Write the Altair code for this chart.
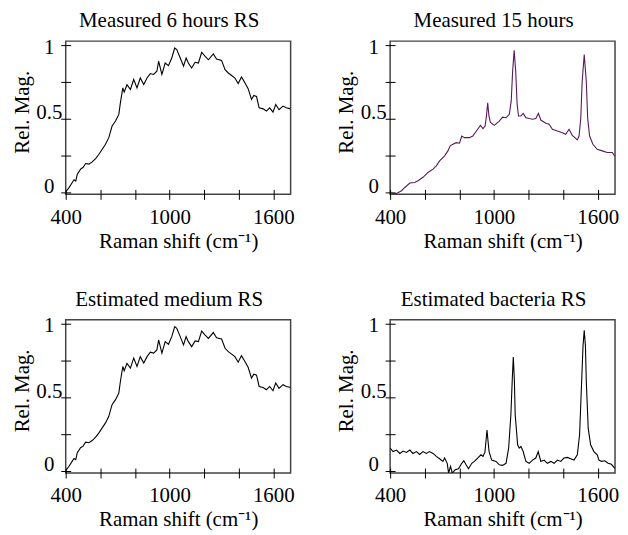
import altair as alt
import pandas as pd

# Panel 1 / 3: measured 6 hours RS and estimated medium RS
x_med = [400, 419, 438, 448, 458, 467, 486, 500, 515, 534, 553, 573, 592, 611, 630, 649, 668, 688, 707, 716,
         730, 738, 754, 774, 793, 812, 831, 851, 870, 889, 908, 927, 937, 956, 975, 994, 1013, 1030, 1042,
         1062, 1081, 1096, 1109, 1128, 1148, 1167, 1186, 1206, 1225, 1253, 1272, 1301, 1321, 1340, 1359,
         1378, 1397, 1416, 1436, 1455, 1474, 1487, 1503, 1518, 1541, 1560, 1579, 1598, 1614, 1633, 1656,
         1675, 1700]
y_med = [0.0, 0.03, 0.065, 0.083, 0.075, 0.122, 0.156, 0.167, 0.194, 0.19, 0.205, 0.228, 0.257, 0.291,
         0.325, 0.37, 0.449, 0.483, 0.528, 0.607, 0.709, 0.68, 0.73, 0.698, 0.766, 0.709, 0.776, 0.732,
         0.776, 0.806, 0.8, 0.822, 0.89, 0.8, 0.878, 0.86, 0.912, 0.98, 0.969, 0.912, 0.856, 0.912, 0.878,
         0.844, 0.883, 0.878, 0.95, 0.923, 0.9, 0.94, 0.905, 0.896, 0.833, 0.81, 0.793, 0.776, 0.738,
         0.783, 0.743, 0.702, 0.63, 0.657, 0.65, 0.573, 0.566, 0.551, 0.573, 0.544, 0.596, 0.56, 0.585,
         0.573, 0.566]

# Panel 2: measured 15 hours
x_15 = [408, 437, 466, 485, 514, 542, 561, 590, 619, 648, 667, 686, 715, 734, 747, 763, 782, 801, 814,
        829, 858, 878, 906, 922, 937, 949, 957, 964, 971, 979, 1002, 1031, 1050, 1070, 1089, 1100, 1108,
        1117, 1126, 1134, 1142, 1156, 1169, 1185, 1204, 1223, 1242, 1257, 1271, 1300, 1319, 1338, 1367,
        1396, 1415, 1434, 1453, 1482, 1492, 1502, 1510, 1522, 1534, 1542, 1553, 1572, 1597, 1626, 1655,
        1684, 1700]
y_15 = [-0.01, -0.01, 0.009, 0.031, 0.061, 0.065, 0.077, 0.1, 0.133, 0.156, 0.178, 0.212, 0.246, 0.28,
        0.314, 0.325, 0.336, 0.332, 0.381, 0.37, 0.37, 0.381, 0.427, 0.454, 0.431, 0.449, 0.52, 0.607,
        0.52, 0.476, 0.454, 0.483, 0.51, 0.506, 0.529, 0.62, 0.82, 0.964, 0.82, 0.6, 0.517, 0.517, 0.535,
        0.506, 0.5, 0.495, 0.5, 0.535, 0.49, 0.468, 0.461, 0.427, 0.416, 0.404, 0.393, 0.427, 0.386,
        0.355, 0.381, 0.5, 0.75, 0.935, 0.75, 0.5, 0.381, 0.325, 0.291, 0.28, 0.269, 0.269, 0.242]

# Panel 4: estimated bacteria RS
x_bac = [400, 417, 437, 456, 475, 494, 514, 532, 552, 571, 590, 609, 628, 648, 667, 686, 705, 715, 730,
         738, 749, 759, 776, 795, 814, 826, 839, 853, 872, 887, 906, 925, 937, 948, 954, 960, 966, 972,
         987, 1012, 1031, 1050, 1070, 1085, 1098, 1106, 1112, 1118, 1123, 1137, 1146, 1156, 1169, 1185,
         1204, 1223, 1242, 1256, 1271, 1290, 1309, 1329, 1348, 1367, 1386, 1405, 1425, 1444, 1463, 1482,
         1495, 1507, 1515, 1522, 1529, 1534, 1545, 1559, 1578, 1597, 1607, 1622, 1641, 1660, 1679, 1699]
y_bac = [0.153, 0.13, 0.14, 0.117, 0.133, 0.124, 0.14, 0.117, 0.13, 0.11, 0.13, 0.117, 0.13, 0.117,
         0.097, 0.081, 0.063, 0.086, 0.05, -0.016, 0.029, -0.016, 0.006, 0.013, 0.05, 0.067, 0.04, 0.013,
         0.05, 0.063, 0.086, 0.108, 0.097, 0.126, 0.2, 0.277, 0.2, 0.13, 0.072, 0.063, 0.04, 0.036, 0.05,
         0.153, 0.38, 0.62, 0.774, 0.62, 0.38, 0.176, 0.153, 0.165, 0.13, 0.063, 0.05, 0.072, 0.086, 0.13,
         0.063, 0.072, 0.05, 0.063, 0.05, 0.072, 0.063, 0.086, 0.09, 0.081, 0.072, 0.108, 0.243, 0.605,
         0.85, 0.955, 0.85, 0.605, 0.288, 0.176, 0.13, 0.108, 0.072, 0.063, 0.067, 0.05, 0.043, 0.016]

titles = ["Measured 6 hours RS", "Measured 15 hours", "Estimated medium RS", "Estimated bacteria RS"]
x_ticks = [400, 600, 800, 1000, 1200, 1400, 1600]
x_labels = [400, 1000, 1600]
y_ticks = [0, 0.25, 0.5, 0.75, 1]
y_labels = [0, 0.5, 1]

FONT = "Liberation Serif"
FS = 21
W, H = 226, 154


def panel(xs, ys, title, color):
    df = pd.DataFrame({"x": xs, "y": ys})
    x_expr = " || ".join(f"datum.value == {v}" for v in x_labels)
    y_expr = " || ".join(f"datum.value == {v}" for v in y_labels)
    return alt.Chart(
        df,
        title=alt.Title(title, font=FONT, fontSize=FS, fontWeight="normal", color="black",
                        anchor="middle", frame="group", baseline="alphabetic", offset=-12, dx=-9),
    ).mark_line(color=color, strokeWidth=1.1, clip=True).encode(
        x=alt.X("x:Q", scale=alt.Scale(domain=[400, 1700], nice=False, zero=False),
                axis=alt.Axis(values=x_ticks, labelExpr=f"({x_expr}) ? datum.label : ''",
                              format="d", offset=-5, tickSize=10, domain=False, grid=False,
                              tickColor="black", tickWidth=1, labelFont=FONT, labelFontSize=FS,
                              labelColor="black", labelPadding=7, labelFlush=False,
                              title="Raman shift (cm⁻¹)", titleFont=FONT, titleFontSize=FS,
                              titleFontWeight="normal", titleColor="black",
                              titleBaseline="alphabetic", titleY=58)),
        y=alt.Y("y:Q", scale=alt.Scale(domain=[-0.016, 1.027], nice=False, zero=False),
                axis=alt.Axis(values=y_ticks, labelExpr=f"({y_expr}) ? datum.label : ''",
                              format="~g", offset=-5, tickSize=10, domain=False, grid=False,
                              tickColor="black", tickWidth=1, labelFont=FONT, labelFontSize=FS,
                              labelColor="black", labelPadding=12, labelAlign="center",
                              labelBaseline="alphabetic", labelFlush=False,
                              labelOffset={"condition": {"test": "datum.value == 1", "value": 8}, "value": 0},
                              title="Rel. Mag.", titleFont=FONT, titleFontSize=FS,
                              titleFontWeight="normal", titleColor="black", titleAngle=-90,
                              titleBaseline="alphabetic", titleAlign="center",
                              titleX=-42.7, titleY=71)),
    ).properties(width=W, height=H)


p1 = panel(x_med, y_med, titles[0], "black")
p2 = panel(x_15, y_15, titles[1], "#5a1a5a")
p3 = panel(x_med, y_med, titles[2], "black")
p4 = panel(x_bac, y_bac, titles[3], "black")

chart = alt.concat(
    p1, p2, p3, p4, columns=2,
    spacing={"row": 126, "column": 100}, bounds="flush",
).properties(
    padding={"left": 2, "top": 0, "right": 0, "bottom": 0},
).configure(
    background="white",
    view=alt.ViewConfig(stroke="#444", strokeWidth=1.5),
)

chart.save("out.html", embed_options={"renderer": "svg", "actions": False})
